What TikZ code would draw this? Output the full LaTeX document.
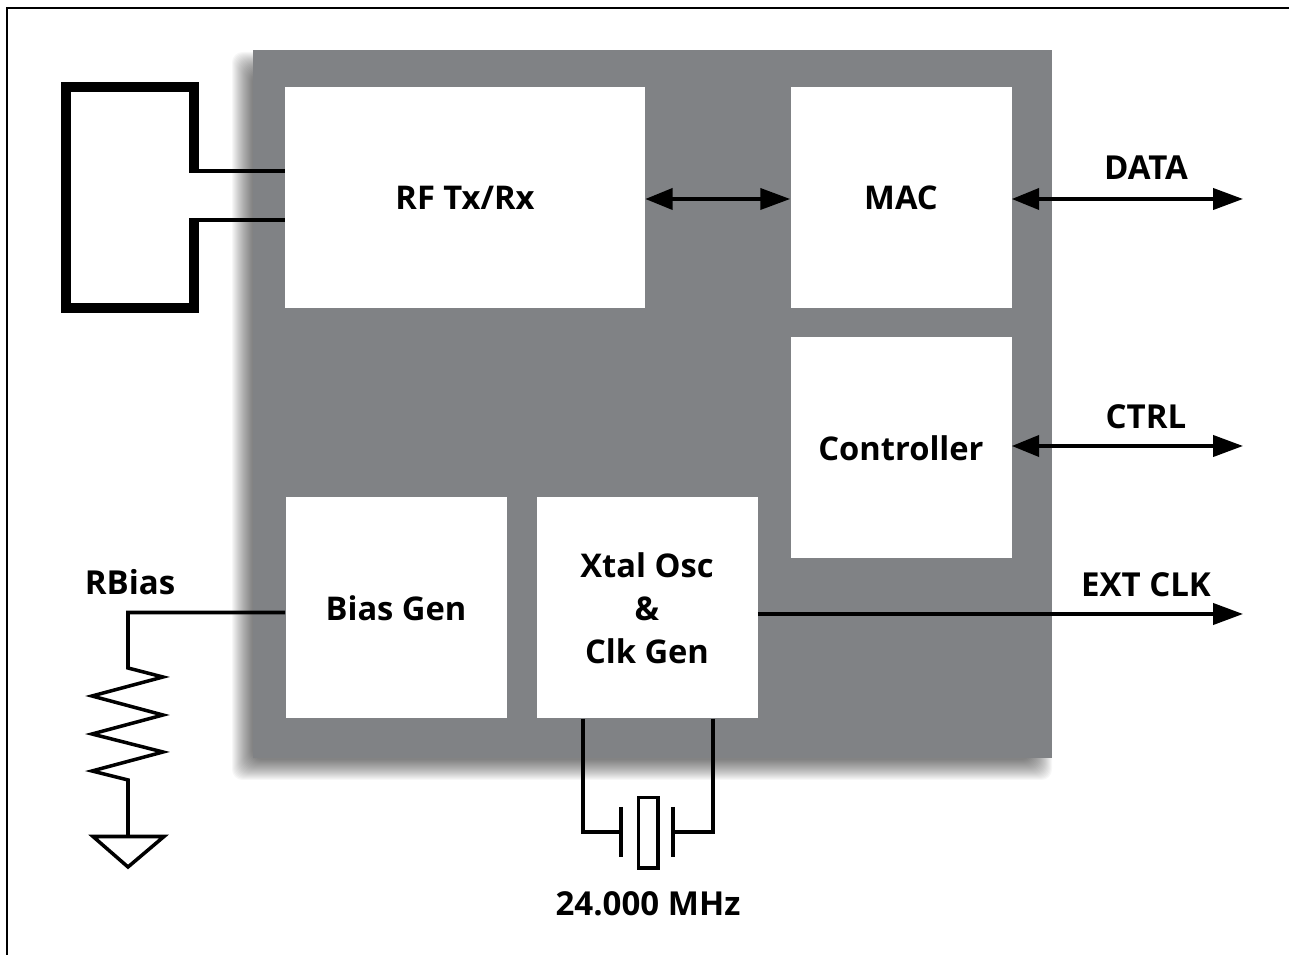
\documentclass[tikz,border=0pt]{standalone}
\usepackage{fontspec}
\usepackage{tikz}
\usetikzlibrary{arrows.meta}
\setmainfont{Open Sans}
\definecolor{diegray}{HTML}{808285}

\tikzset{
  block/.style={fill=white, minimum width=221*0.02cm, minimum height=221*0.02cm, inner sep=0pt, font=\fontsize{18.6}{24.4}\selectfont\bfseries, align=center},
  tag/.style={inner sep=0pt, font=\fontsize{18.8}{20}\selectfont\bfseries},
  wire/.style={line width=2pt, line join=miter},
  bus/.style={wire, {Triangle[length=15.5pt,width=12pt]}-{Triangle[length=17pt,width=12pt]}},
  outbus/.style={wire, -{Triangle[length=17pt,width=12pt]}},
}

\begin{document}
\begin{tikzpicture}[x=0.02cm, y=-0.02cm]
\useasboundingbox (0,0) rectangle (1289,955);
\draw[line width=1.1pt] (6.9,955) -- (6.9,7.8) -- (1289,7.8);
\foreach \s in {0,...,20}
  \fill[black, fill opacity=0.03, rounded corners=6pt] (232+\s,52+\s) rectangle (1052-\s,780-\s);
\fill[diegray] (253,50) rectangle (1052,758);

\node[block, minimum width=360*0.02cm] (rf) at (465,197.5) {RF Tx/Rx};
\node[block] (mac) at (901,197.5) {MAC};
\node[block] (ctrl) at (901,448) {Controller};
\node[block] (bias) at (396,608) {Bias Gen};
\node[block] (xtal) at (647,608) {Xtal Osc\\\&\\Clk Gen};

\coordinate (antA) at (189,171);
\coordinate (antB) at (189,220);
\coordinate (rfEnd) at (718,199);
\coordinate (dataEnd) at (1243,199);
\coordinate (ctrlEnd) at (1243,446);
\coordinate (clkEnd) at (1243,614);
\coordinate (rTop) at (128,612.5);
\coordinate (gnd) at (128,836.5);
\coordinate (xtalL) at (583,832);
\coordinate (xtalR) at (713,832);

\draw[line width=5.7pt, line join=miter] (194,172.5) -- (194,87) -- (66,87) -- (66,308) -- (194,308) -- (194,218.5);
\draw[wire] (antA) -- (antA -| rf.west);
\draw[wire] (antB) -- (antB -| rf.west);

\draw[bus] (rf.east |- rfEnd) -- (mac.west |- rfEnd);
\draw[bus] (mac.east |- dataEnd) -- (dataEnd);
\draw[bus] (ctrl.east |- ctrlEnd) -- (ctrlEnd);
\draw[outbus] (xtal.east |- clkEnd) -- (clkEnd);

\draw[wire] (bias.west |- rTop) -- (rTop) -- (128,668) -- (163,677) -- (92,696) -- (163,715) -- (92,734) -- (163,752) -- (92,771) -- (128,780) -- (gnd);
\draw[wire] (93,836.5) -- (164,836.5) -- (128,867) -- cycle;

\draw[wire] (xtal.south -| xtalL) -- (xtalL) -- (621,832);
\draw[wire] (xtal.south -| xtalR) -- (xtalR) -- (673,832);
\draw[wire] (621,807) -- (621,857);
\draw[wire] (673,807) -- (673,857);
\draw[wire] (638.5,797.5) rectangle (658,868);

\node[tag] (rbiasLabel) at (130,582) {RBias};
\node[tag] (dataLabel) at (1146,168) {DATA};
\node[tag] (ctrlLabel) at (1146,417) {CTRL};
\node[tag] (clkLabel) at (1146,585) {EXT CLK};
\node[tag] (freqLabel) at (648,904) {24.000 MHz};
\end{tikzpicture}
\end{document}
